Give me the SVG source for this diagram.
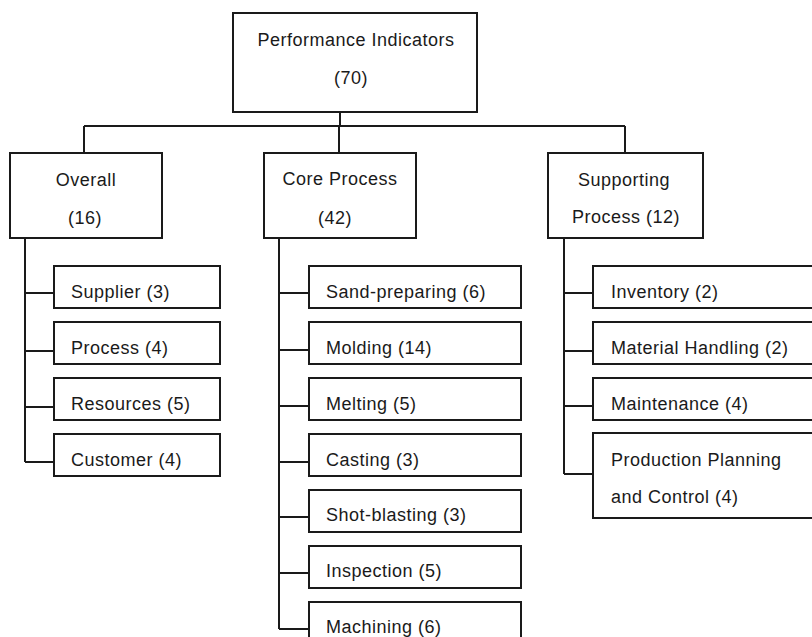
<svg xmlns="http://www.w3.org/2000/svg" width="812" height="637" viewBox="0 0 812 637">
<style>
rect{fill:#fff;stroke:#1a1a1a;stroke-width:2}
path{fill:none;stroke:#1a1a1a;stroke-width:2}
text{font-family:"Liberation Sans",Arial,sans-serif;font-size:18px;letter-spacing:0.5px;fill:#1a1a1a}
.c{text-anchor:middle}
</style>
<rect x="0" y="0" width="812" height="637" style="stroke:none;fill:#fff"/>
<g id="connectors">
<path d="M340 112V126M84 126H625M84 126V153M339 126V153M625 126V153"/>
<path d="M25 238V462M25 293H54M25 351H54M25 407H54M25 462H54"/>
<path d="M279 238V629M279 293H309M279 350H309M279 406H309M279 462H309M279 517H309M279 573H309M279 629H309"/>
<path d="M564 238V474M564 293H593M564 351H593M564 406H593M564 474H593"/>
</g>
<g id="root"><rect x="233" y="13" width="244" height="99"/><text class="c" x="356" y="46">Performance Indicators</text><text class="c" x="351" y="84">(70)</text></g>
<g id="overall"><rect x="10" y="153" width="152" height="85"/><text class="c" x="86" y="186">Overall</text><text class="c" x="85" y="224">(16)</text></g>
<g id="core"><rect x="264" y="153" width="152" height="85"/><text class="c" x="340" y="185">Core Process</text><text class="c" x="335" y="224">(42)</text></g>
<g id="supporting"><rect x="548" y="153" width="155" height="85"/><text class="c" x="624" y="186">Supporting</text><text class="c" x="626" y="223">Process (12)</text></g>
<g id="supplier"><rect x="54" y="266" width="166" height="42"/><text x="71" y="298">Supplier (3)</text></g>
<g id="process"><rect x="54" y="322" width="166" height="42"/><text x="71" y="354">Process (4)</text></g>
<g id="resources"><rect x="54" y="378" width="166" height="42"/><text x="71" y="410">Resources (5)</text></g>
<g id="customer"><rect x="54" y="434" width="166" height="42"/><text x="71" y="466">Customer (4)</text></g>
<g id="sand"><rect x="309" y="266" width="212" height="42"/><text x="326" y="298">Sand-preparing (6)</text></g>
<g id="molding"><rect x="309" y="322" width="212" height="42"/><text x="326" y="354">Molding (14)</text></g>
<g id="melting"><rect x="309" y="378" width="212" height="42"/><text x="326" y="410">Melting (5)</text></g>
<g id="casting"><rect x="309" y="434" width="212" height="42"/><text x="326" y="466">Casting (3)</text></g>
<g id="shot"><rect x="309" y="490" width="212" height="42"/><text x="326" y="521">Shot-blasting (3)</text></g>
<g id="inspection"><rect x="309" y="546" width="212" height="42"/><text x="326" y="577">Inspection (5)</text></g>
<g id="machining"><rect x="309" y="602" width="212" height="42"/><text x="326" y="633">Machining (6)</text></g>
<g id="inventory"><rect x="593" y="266" width="240" height="42"/><text x="611" y="298">Inventory (2)</text></g>
<g id="material"><rect x="593" y="322" width="240" height="42"/><text x="611" y="354">Material Handling (2)</text></g>
<g id="maintenance"><rect x="593" y="378" width="240" height="42"/><text x="611" y="410">Maintenance (4)</text></g>
<g id="ppc"><rect x="593" y="433" width="240" height="85"/><text x="611" y="466">Production Planning</text><text x="611" y="503">and Control (4)</text></g>
</svg>
